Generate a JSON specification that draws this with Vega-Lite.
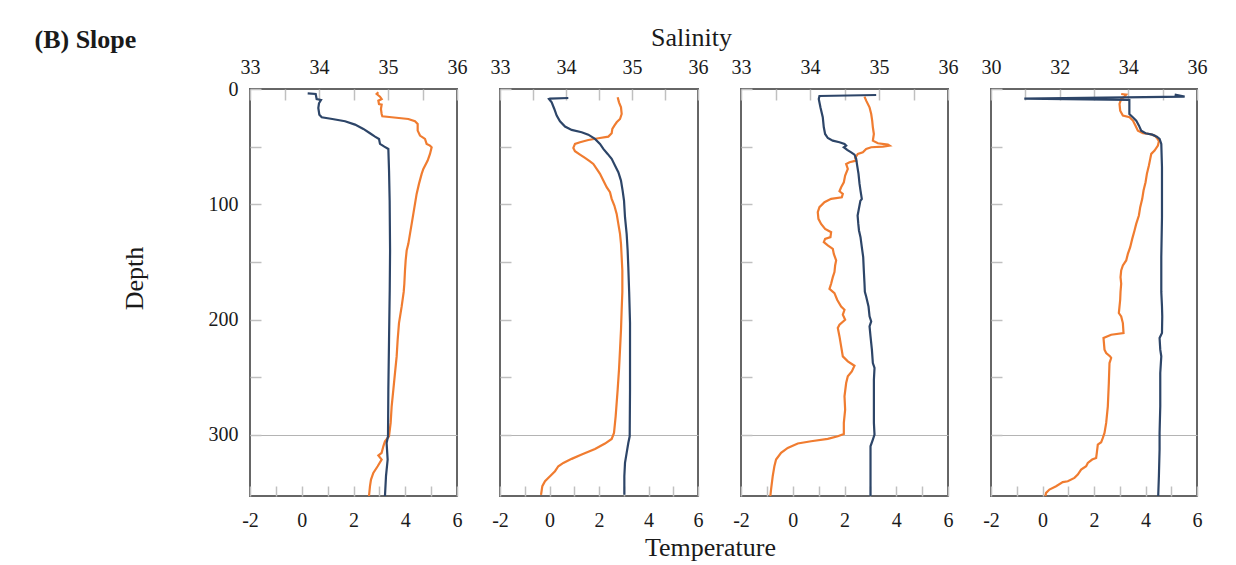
{
  "$schema": "https://vega.github.io/schema/vega-lite/v6.json",
  "background": "white",
  "padding": {"left": 33, "top": 23, "right": 10, "bottom": 5},
  "config": {
    "view": {"stroke": "#666666", "strokeWidth": 2},
    "axis": {"labelFont": "Liberation Serif", "labelFontSize": 20, "labelColor": "#1a1a1a", "titleFont": "Liberation Serif", "titleFontSize": 26, "titleFontWeight": "normal", "titleColor": "#1a1a1a", "domain": false, "tickColor": "#c0c0c0", "tickWidth": 1.5, "labelFlush": false, "labelOverlap": false, "labelBound": false},
    "axisX": {"grid": false}
  },
  "datasets": {
    "p1s": [{"d":3.76,"s":33.836},{"d":4.33,"s":33.952},{"d":8.66,"s":33.966},{"d":9.53,"s":34.029},{"d":12.4,"s":34.0},{"d":16.46,"s":33.99},{"d":22.24,"s":34.005},{"d":24.55,"s":34.04},{"d":26.0,"s":34.193},{"d":28.0,"s":34.377},{"d":30.9,"s":34.522},{"d":34.65,"s":34.643},{"d":38.4,"s":34.739},{"d":41.3,"s":34.812},{"d":43.3,"s":34.87},{"d":47.65,"s":34.884},{"d":50.0,"s":34.947},{"d":52.0,"s":35.005},{"d":70.8,"s":35.015},{"d":96.7,"s":35.024},{"d":140,"s":35.03},{"d":175,"s":35.025},{"d":217.5,"s":35.015},{"d":260.8,"s":35.005},{"d":301.2,"s":35.0},{"d":307,"s":34.98},{"d":321.4,"s":34.995},{"d":335.8,"s":34.971},{"d":353,"s":34.956}],
    "p1t": [{"d":2.89,"t":2.96},{"d":4.33,"t":2.895},{"d":6.64,"t":3.024},{"d":8.66,"t":3.088},{"d":10.1,"t":2.96},{"d":13.0,"t":2.985},{"d":13.6,"t":3.088},{"d":17.3,"t":3.06},{"d":21.7,"t":3.088},{"d":23.7,"t":3.114},{"d":24.5,"t":3.475},{"d":26.0,"t":4.119},{"d":28.0,"t":4.376},{"d":30.3,"t":4.48},{"d":36.1,"t":4.48},{"d":40.4,"t":4.57},{"d":43.3,"t":4.763},{"d":47.65,"t":4.827},{"d":49.1,"t":4.956},{"d":50.5,"t":5.02},{"d":56.3,"t":4.956},{"d":62.1,"t":4.866},{"d":69.3,"t":4.699},{"d":73.6,"t":4.634},{"d":82.3,"t":4.53},{"d":91.0,"t":4.44},{"d":99.6,"t":4.376},{"d":108.3,"t":4.312},{"d":117,"t":4.248},{"d":125.6,"t":4.183},{"d":134.3,"t":4.119},{"d":140.1,"t":4.055},{"d":148.7,"t":4.016},{"d":157.4,"t":3.99},{"d":168.9,"t":3.965},{"d":176,"t":3.94},{"d":188.6,"t":3.862},{"d":203,"t":3.758},{"d":217.4,"t":3.707},{"d":231.9,"t":3.668},{"d":246.3,"t":3.604},{"d":260.8,"t":3.54},{"d":275.2,"t":3.475},{"d":289.6,"t":3.436},{"d":301.2,"t":3.372},{"d":305.5,"t":3.217},{"d":309.9,"t":3.153},{"d":315.6,"t":3.088},{"d":317.9,"t":2.96},{"d":321.4,"t":3.088},{"d":327.2,"t":2.934},{"d":333,"t":2.766},{"d":338.7,"t":2.676},{"d":344.5,"t":2.637},{"d":353,"t":2.599}],
    "p2s": [{"d":7.8,"s":34.035},{"d":8.37,"s":33.757},{"d":8.66,"s":33.742},{"d":11.55,"s":33.783},{"d":17.33,"s":33.823},{"d":23.1,"s":33.859},{"d":28.0,"s":33.909},{"d":32.6,"s":33.985},{"d":35.5,"s":34.086},{"d":37.5,"s":34.237},{"d":39.6,"s":34.338},{"d":43.3,"s":34.439},{"d":47.65,"s":34.515},{"d":52,"s":34.566},{"d":56.3,"s":34.631},{"d":60.6,"s":34.692},{"d":66.4,"s":34.742},{"d":72.2,"s":34.793},{"d":79.4,"s":34.833},{"d":88.1,"s":34.858},{"d":96.7,"s":34.879},{"d":111.2,"s":34.894},{"d":125.6,"s":34.919},{"d":140.1,"s":34.934},{"d":154.5,"s":34.944},{"d":176,"s":34.957},{"d":203,"s":34.97},{"d":231.9,"s":34.97},{"d":260.8,"s":34.97},{"d":301.2,"s":34.965},{"d":307,"s":34.944},{"d":315.6,"s":34.919},{"d":324.3,"s":34.894},{"d":335.8,"s":34.884},{"d":352,"s":34.884}],
    "p2t": [{"d":7.2,"t":2.754},{"d":11.55,"t":2.808},{"d":15.88,"t":2.889},{"d":21.66,"t":2.916},{"d":26.0,"t":2.849},{"d":28.9,"t":2.714},{"d":31.8,"t":2.62},{"d":34.65,"t":2.539},{"d":38.4,"t":2.512},{"d":41.3,"t":2.377},{"d":42.7,"t":1.973},{"d":44.2,"t":1.569},{"d":46.2,"t":1.232},{"d":47.65,"t":1.03},{"d":51.1,"t":0.963},{"d":54.0,"t":1.03},{"d":56.9,"t":1.232},{"d":59.8,"t":1.434},{"d":62.7,"t":1.636},{"d":65.0,"t":1.771},{"d":69.3,"t":1.906},{"d":73.6,"t":2.04},{"d":79.4,"t":2.175},{"d":85.2,"t":2.31},{"d":89.5,"t":2.444},{"d":95.3,"t":2.512},{"d":101.1,"t":2.62},{"d":108.3,"t":2.714},{"d":117,"t":2.781},{"d":125.6,"t":2.849},{"d":134.3,"t":2.889},{"d":145.8,"t":2.916},{"d":157.4,"t":2.943},{"d":176,"t":2.943},{"d":191.5,"t":2.916},{"d":208.8,"t":2.889},{"d":226.1,"t":2.849},{"d":243.4,"t":2.808},{"d":260.8,"t":2.754},{"d":283.9,"t":2.673},{"d":298.3,"t":2.606},{"d":303.5,"t":2.512},{"d":307.5,"t":2.242},{"d":312.2,"t":1.838},{"d":317.1,"t":1.3},{"d":320.8,"t":0.896},{"d":324.3,"t":0.559},{"d":327.2,"t":0.357},{"d":331.5,"t":0.222},{"d":335.8,"t":0.02},{"d":340.2,"t":-0.182},{"d":344.5,"t":-0.29},{"d":352,"t":-0.343}],
    "p3s": [{"d":5.2,"s":34.959},{"d":6.06,"s":34.137},{"d":8.66,"s":34.127},{"d":15.9,"s":34.151},{"d":24.5,"s":34.185},{"d":33.2,"s":34.2},{"d":39.0,"s":34.219},{"d":42.5,"s":34.258},{"d":44.8,"s":34.33},{"d":46.2,"s":34.427},{"d":47.65,"s":34.5},{"d":49.1,"s":34.524},{"d":50.5,"s":34.49},{"d":52.8,"s":34.539},{"d":54.9,"s":34.597},{"d":56.9,"s":34.645},{"d":60.6,"s":34.669},{"d":66.4,"s":34.684},{"d":73.6,"s":34.703},{"d":82.3,"s":34.718},{"d":88.1,"s":34.732},{"d":95.3,"s":34.751},{"d":97,"s":34.73},{"d":109.7,"s":34.69},{"d":117,"s":34.7},{"d":122.7,"s":34.71},{"d":128.5,"s":34.732},{"d":137.2,"s":34.751},{"d":145.8,"s":34.771},{"d":157.4,"s":34.78},{"d":168.9,"s":34.79},{"d":176,"s":34.795},{"d":179.9,"s":34.814},{"d":188.6,"s":34.848},{"d":197.2,"s":34.863},{"d":201.6,"s":34.887},{"d":205.9,"s":34.863},{"d":214.6,"s":34.877},{"d":226.1,"s":34.897},{"d":237.7,"s":34.911},{"d":242,"s":34.935},{"d":252.1,"s":34.926},{"d":269.4,"s":34.926},{"d":289.6,"s":34.926},{"d":299.8,"s":34.935},{"d":304.1,"s":34.911},{"d":309.9,"s":34.877},{"d":324.3,"s":34.877},{"d":341.6,"s":34.877},{"d":353,"s":34.877}],
    "p3t": [{"d":6.64,"t":2.773},{"d":10.1,"t":2.838},{"d":15.9,"t":2.967},{"d":21.7,"t":3.032},{"d":27.4,"t":3.07},{"d":33.2,"t":3.096},{"d":39.0,"t":3.135},{"d":44.8,"t":3.096},{"d":47.1,"t":3.29},{"d":48.2,"t":3.676},{"d":49.1,"t":3.741},{"d":50.0,"t":3.483},{"d":50.5,"t":3.032},{"d":52.0,"t":2.838},{"d":54.9,"t":2.709},{"d":56.3,"t":2.515},{"d":59.8,"t":2.412},{"d":62.1,"t":2.451},{"d":63.5,"t":2.193},{"d":65.0,"t":2.064},{"d":69.3,"t":2.128},{"d":75.1,"t":2.025},{"d":80.9,"t":1.974},{"d":85.2,"t":1.87},{"d":88.7,"t":1.806},{"d":91.0,"t":1.935},{"d":93.9,"t":1.896},{"d":95.3,"t":1.483},{"d":98.2,"t":1.225},{"d":102.5,"t":1.032},{"d":106.8,"t":0.967},{"d":112.6,"t":0.993},{"d":117,"t":1.096},{"d":121.3,"t":1.251},{"d":124.2,"t":1.483},{"d":128.5,"t":1.457},{"d":130,"t":1.251},{"d":132.8,"t":1.2},{"d":135.7,"t":1.354},{"d":138.6,"t":1.548},{"d":143,"t":1.587},{"d":148.7,"t":1.677},{"d":153.1,"t":1.638},{"d":158.8,"t":1.612},{"d":163.2,"t":1.548},{"d":168.9,"t":1.483},{"d":173.3,"t":1.419},{"d":177,"t":1.612},{"d":182.8,"t":1.716},{"d":188.6,"t":1.87},{"d":191.5,"t":2.0},{"d":195.8,"t":1.935},{"d":200.1,"t":2.025},{"d":204.5,"t":1.806},{"d":207.3,"t":1.741},{"d":214.6,"t":1.806},{"d":223.2,"t":1.87},{"d":231.9,"t":1.935},{"d":236.2,"t":2.128},{"d":240,"t":2.386},{"d":244.9,"t":2.283},{"d":249.2,"t":2.128},{"d":255,"t":2.064},{"d":266.5,"t":2.0},{"d":278.1,"t":2.025},{"d":289.6,"t":1.974},{"d":299.2,"t":1.974},{"d":301.2,"t":1.741},{"d":303.5,"t":1.354},{"d":305.5,"t":0.709},{"d":307.5,"t":0.193},{"d":311.3,"t":-0.194},{"d":315.6,"t":-0.452},{"d":321.4,"t":-0.645},{"d":327.2,"t":-0.71},{"d":335.8,"t":-0.774},{"d":347.4,"t":-0.839},{"d":353,"t":-0.865}],
    "p4s": [{"d":4.9,"s":35.35},{"d":6.64,"s":35.64},{"d":8.37,"s":30.97},{"d":9.53,"s":34.03},{"d":21.7,"s":34.03},{"d":24.5,"s":34.13},{"d":27.4,"s":34.23},{"d":31.8,"s":34.31},{"d":36.1,"s":34.375},{"d":38.4,"s":34.5},{"d":39.6,"s":34.7},{"d":41.3,"s":34.83},{"d":43.3,"s":34.91},{"d":47.65,"s":34.96},{"d":67.9,"s":34.98},{"d":111.2,"s":34.98},{"d":145.8,"s":34.96},{"d":176,"s":34.96},{"d":188.6,"s":34.98},{"d":197.2,"s":34.988},{"d":211.7,"s":34.98},{"d":216,"s":34.91},{"d":226.1,"s":34.93},{"d":231.9,"s":34.96},{"d":246.3,"s":34.93},{"d":275.2,"s":34.93},{"d":298.3,"s":34.91},{"d":312.7,"s":34.91},{"d":335.8,"s":34.89},{"d":353,"s":34.87}],
    "p4t": [{"d":4.33,"t":3.056},{"d":4.9,"t":3.25},{"d":6.64,"t":3.186},{"d":8.66,"t":3.056},{"d":13.0,"t":2.991},{"d":18.8,"t":3.017},{"d":23.1,"t":3.121},{"d":24.5,"t":3.38},{"d":27.4,"t":3.51},{"d":31.8,"t":3.613},{"d":36.1,"t":3.704},{"d":38.4,"t":3.899},{"d":39.0,"t":4.158},{"d":40.4,"t":4.352},{"d":42.5,"t":4.443},{"d":45.3,"t":4.521},{"d":49.1,"t":4.482},{"d":53.4,"t":4.352},{"d":56.3,"t":4.223},{"d":60.6,"t":4.184},{"d":66.4,"t":4.132},{"d":73.6,"t":4.054},{"d":80.9,"t":4.002},{"d":88.1,"t":3.924},{"d":95.3,"t":3.873},{"d":102.5,"t":3.795},{"d":109.7,"t":3.743},{"d":117,"t":3.639},{"d":122.7,"t":3.574},{"d":130,"t":3.484},{"d":137.2,"t":3.406},{"d":143,"t":3.315},{"d":148.7,"t":3.25},{"d":153.1,"t":3.121},{"d":157.4,"t":3.056},{"d":163.2,"t":3.03},{"d":168.9,"t":3.056},{"d":176,"t":3.03},{"d":182.8,"t":3.017},{"d":194.3,"t":2.965},{"d":197.2,"t":3.056},{"d":203,"t":3.121},{"d":211.7,"t":3.147},{"d":213.1,"t":2.667},{"d":216,"t":2.369},{"d":226.1,"t":2.408},{"d":229,"t":2.473},{"d":231.9,"t":2.628},{"d":233.3,"t":2.667},{"d":237.7,"t":2.602},{"d":255,"t":2.576},{"d":275.2,"t":2.537},{"d":289.6,"t":2.473},{"d":298.3,"t":2.408},{"d":302.6,"t":2.343},{"d":306.4,"t":2.278},{"d":308.4,"t":2.148},{"d":315.6,"t":2.109},{"d":320,"t":2.083},{"d":321.4,"t":1.928},{"d":324.3,"t":1.759},{"d":327.2,"t":1.695},{"d":330.1,"t":1.5},{"d":334.4,"t":1.37},{"d":337.3,"t":1.241},{"d":340.2,"t":0.982},{"d":341.0,"t":0.787},{"d":344.5,"t":0.528},{"d":347.4,"t":0.269},{"d":350.3,"t":0.139},{"d":353,"t":0.113}]
  },
  "hconcat": [
    {
      "width": 207, "height": 407,
      "layer": [
        {"data": {"name": "p1t"}, "mark": {"type": "line", "color": "#f07c30", "strokeWidth": 2.2},
         "encoding": {
           "x": {"field": "t", "type": "quantitative", "scale": {"domain": [-2, 6], "nice": false, "zero": false}, "axis": {"orient": "bottom", "values": [-2,-1,0,1,2,3,4,5,6], "labelExpr": "datum.value % 2 == 0 ? '' + datum.value : ''", "tickSize": -10, "labelPadding": 24, "title": null}},
           "y": {"field": "d", "type": "quantitative", "scale": {"domain": [0, 353], "reverse": true, "nice": false, "zero": false}, "axis": {"values": [0,50,100,150,200,250,300], "labelExpr": "datum.value % 100 == 0 ? '' + datum.value : ''", "tickSize": -11, "labelPadding": 23, "grid": true, "gridColor": "#b4b4b4", "gridWidth": 1.2, "gridOpacity": {"condition": {"test": "datum.value == 300", "value": 1}, "value": 0}, "title": "Depth", "titleX": -108, "titleY": 189, "titleBaseline": "alphabetic", "titleAngle": 270}},
           "order": {"field": "d", "type": "quantitative"}}},
        {"data": {"name": "p1s"}, "mark": {"type": "line", "color": "#2d4568", "strokeWidth": 2.2},
         "encoding": {
           "x": {"field": "s", "type": "quantitative", "scale": {"domain": [33, 36], "nice": false, "zero": false}, "axis": {"orient": "top", "values": [33,33.5,34,34.5,35,35.5,36], "labelExpr": "datum.value % 1 == 0 ? '' + datum.value : ''", "tickSize": -11, "labelPadding": 27, "labelBaseline": "alphabetic", "title": "(B) Slope", "titleX": -216, "titleY": -42, "titleAlign": "left", "titleBaseline": "alphabetic", "titleFontWeight": "bold"}},
           "y": {"field": "d", "type": "quantitative", "scale": {"domain": [0, 353], "reverse": true, "nice": false, "zero": false}, "axis": {"values": [0,50,100,150,200,250,300], "labelExpr": "datum.value % 100 == 0 ? '' + datum.value : ''", "tickSize": -11, "labelPadding": 23, "grid": true, "gridColor": "#b4b4b4", "gridWidth": 1.2, "gridOpacity": {"condition": {"test": "datum.value == 300", "value": 1}, "value": 0}, "title": "Depth", "titleX": -108, "titleY": 189, "titleBaseline": "alphabetic", "titleAngle": 270}},
           "order": {"field": "d", "type": "quantitative"}}}
      ],
      "resolve": {"scale": {"x": "independent"}}
    },
    {
      "width": 198, "height": 407,
      "layer": [
        {"data": {"name": "p2t"}, "mark": {"type": "line", "color": "#f07c30", "strokeWidth": 2.2},
         "encoding": {
           "x": {"field": "t", "type": "quantitative", "scale": {"domain": [-2, 6], "nice": false, "zero": false}, "axis": {"orient": "bottom", "values": [-2,-1,0,1,2,3,4,5,6], "labelExpr": "datum.value % 2 == 0 ? '' + datum.value : ''", "tickSize": -10, "labelPadding": 24, "title": "Temperature", "titleX": 210, "titleY": 59, "titleBaseline": "alphabetic"}},
           "y": {"field": "d", "type": "quantitative", "scale": {"domain": [0, 353], "reverse": true, "nice": false, "zero": false}, "axis": {"values": [0,50,100,150,200,250,300], "labels": false, "tickSize": -11, "grid": true, "gridColor": "#b4b4b4", "gridWidth": 1.2, "gridOpacity": {"condition": {"test": "datum.value == 300", "value": 1}, "value": 0}, "title": null}},
           "order": {"field": "d", "type": "quantitative"}}},
        {"data": {"name": "p2s"}, "mark": {"type": "line", "color": "#2d4568", "strokeWidth": 2.2},
         "encoding": {
           "x": {"field": "s", "type": "quantitative", "scale": {"domain": [33, 36], "nice": false, "zero": false}, "axis": {"orient": "top", "values": [33,33.5,34,34.5,35,35.5,36], "labelExpr": "datum.value % 1 == 0 ? '' + datum.value : ''", "tickSize": -11, "labelPadding": 27, "labelBaseline": "alphabetic", "title": "Salinity", "titleX": 191, "titleY": -44, "titleBaseline": "alphabetic"}},
           "y": {"field": "d", "type": "quantitative", "scale": {"domain": [0, 353], "reverse": true, "nice": false, "zero": false}, "axis": {"values": [0,50,100,150,200,250,300], "labels": false, "tickSize": -11, "grid": true, "gridColor": "#b4b4b4", "gridWidth": 1.2, "gridOpacity": {"condition": {"test": "datum.value == 300", "value": 1}, "value": 0}, "title": null}},
           "order": {"field": "d", "type": "quantitative"}}}
      ],
      "resolve": {"scale": {"x": "independent"}}
    },
    {
      "width": 207, "height": 407,
      "layer": [
        {"data": {"name": "p3t"}, "mark": {"type": "line", "color": "#f07c30", "strokeWidth": 2.2},
         "encoding": {
           "x": {"field": "t", "type": "quantitative", "scale": {"domain": [-2, 6], "nice": false, "zero": false}, "axis": {"orient": "bottom", "values": [-2,-1,0,1,2,3,4,5,6], "labelExpr": "datum.value % 2 == 0 ? '' + datum.value : ''", "tickSize": -10, "labelPadding": 24, "title": null}},
           "y": {"field": "d", "type": "quantitative", "scale": {"domain": [0, 353], "reverse": true, "nice": false, "zero": false}, "axis": {"values": [0,50,100,150,200,250,300], "labels": false, "tickSize": -11, "grid": true, "gridColor": "#b4b4b4", "gridWidth": 1.2, "gridOpacity": {"condition": {"test": "datum.value == 300", "value": 1}, "value": 0}, "title": null}},
           "order": {"field": "d", "type": "quantitative"}}},
        {"data": {"name": "p3s"}, "mark": {"type": "line", "color": "#2d4568", "strokeWidth": 2.2},
         "encoding": {
           "x": {"field": "s", "type": "quantitative", "scale": {"domain": [33, 36], "nice": false, "zero": false}, "axis": {"orient": "top", "values": [33,33.5,34,34.5,35,35.5,36], "labelExpr": "datum.value % 1 == 0 ? '' + datum.value : ''", "tickSize": -11, "labelPadding": 27, "labelBaseline": "alphabetic", "title": null}},
           "y": {"field": "d", "type": "quantitative", "scale": {"domain": [0, 353], "reverse": true, "nice": false, "zero": false}, "axis": {"values": [0,50,100,150,200,250,300], "labels": false, "tickSize": -11, "grid": true, "gridColor": "#b4b4b4", "gridWidth": 1.2, "gridOpacity": {"condition": {"test": "datum.value == 300", "value": 1}, "value": 0}, "title": null}},
           "order": {"field": "d", "type": "quantitative"}}}
      ],
      "resolve": {"scale": {"x": "independent"}}
    },
    {
      "width": 206, "height": 407,
      "layer": [
        {"data": {"name": "p4t"}, "mark": {"type": "line", "color": "#f07c30", "strokeWidth": 2.2},
         "encoding": {
           "x": {"field": "t", "type": "quantitative", "scale": {"domain": [-2, 6], "nice": false, "zero": false}, "axis": {"orient": "bottom", "values": [-2,-1,0,1,2,3,4,5,6], "labelExpr": "datum.value % 2 == 0 ? '' + datum.value : ''", "tickSize": -10, "labelPadding": 24, "title": null}},
           "y": {"field": "d", "type": "quantitative", "scale": {"domain": [0, 353], "reverse": true, "nice": false, "zero": false}, "axis": {"values": [0,50,100,150,200,250,300], "labels": false, "tickSize": -11, "grid": true, "gridColor": "#b4b4b4", "gridWidth": 1.2, "gridOpacity": {"condition": {"test": "datum.value == 300", "value": 1}, "value": 0}, "title": null}},
           "order": {"field": "d", "type": "quantitative"}}},
        {"data": {"name": "p4s"}, "mark": {"type": "line", "color": "#2d4568", "strokeWidth": 2.2},
         "encoding": {
           "x": {"field": "s", "type": "quantitative", "scale": {"domain": [30, 36], "nice": false, "zero": false}, "axis": {"orient": "top", "values": [30,31,32,33,34,35,36], "labelExpr": "datum.value % 2 == 0 ? '' + datum.value : ''", "tickSize": -11, "labelPadding": 27, "labelBaseline": "alphabetic", "title": null}},
           "y": {"field": "d", "type": "quantitative", "scale": {"domain": [0, 353], "reverse": true, "nice": false, "zero": false}, "axis": {"values": [0,50,100,150,200,250,300], "labels": false, "tickSize": -11, "grid": true, "gridColor": "#b4b4b4", "gridWidth": 1.2, "gridOpacity": {"condition": {"test": "datum.value == 300", "value": 1}, "value": 0}, "title": null}},
           "order": {"field": "d", "type": "quantitative"}}}
      ],
      "resolve": {"scale": {"x": "independent"}}
    }
  ],
  "spacing": 43,
  "bounds": "flush"
}
